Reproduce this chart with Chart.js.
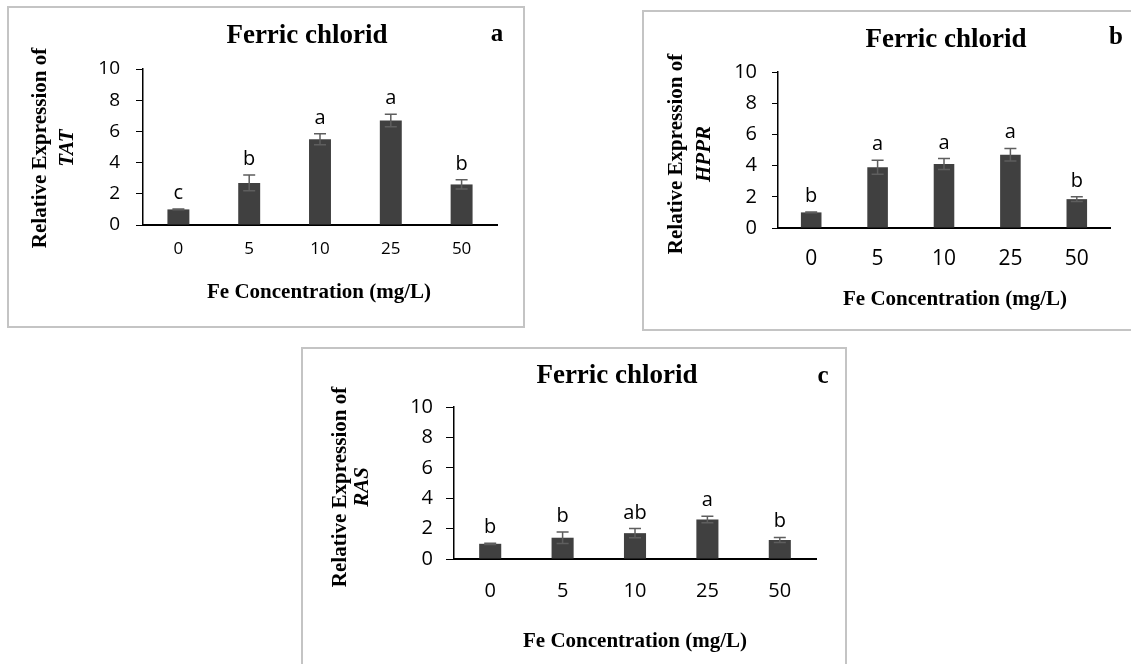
<!DOCTYPE html>
<html><head><meta charset="utf-8">
<script src="https://cdn.jsdelivr.net/npm/chart.js@4.4.1/dist/chart.umd.min.js"></script>
<style>
html,body{margin:0;padding:0;background:#fff;width:1131px;height:664px;overflow:hidden;}
.panel{position:absolute;border:2px solid #c4c4c4;box-sizing:border-box;background:#fff;}
canvas{display:block;}
</style></head><body>
<div class="panel" style="left:7px;top:6px;width:518px;height:322px;"><canvas id="ca" width="514" height="318"></canvas></div>
<div class="panel" style="left:642px;top:10px;width:492px;height:321px;"><canvas id="cb" width="488" height="317"></canvas></div>
<div class="panel" style="left:301px;top:347px;width:546px;height:320px;"><canvas id="cc" width="542" height="316"></canvas></div>
<script>
// ---- data ----
const categories = ['0', '5', '10', '25', '50'];
const tatMeans  = [1.0, 2.7, 5.5, 6.7, 2.6];
const tatErr    = [0.03, 0.5, 0.35, 0.4, 0.3];
const tatLetters = ['c', 'b', 'a', 'a', 'b'];
const hpprMeans = [1.0, 3.9, 4.1, 4.7, 1.85];
const hpprErr   = [0.03, 0.45, 0.35, 0.4, 0.15];
const hpprLetters = ['b', 'a', 'a', 'a', 'b'];
const rasMeans  = [1.0, 1.4, 1.7, 2.6, 1.25];
const rasErr    = [0.04, 0.38, 0.3, 0.22, 0.17];
const rasLetters = ['b', 'b', 'ab', 'a', 'b'];
const yTicksMax = 10, yTickStep = 2;
const chartTitle = 'Ferric chlorid';
const xTitle = 'Fe Concentration (mg/L)';
const yTitle = 'Relative Expression of';

const SERIF = '"Liberation Serif", "Times New Roman", serif';
const SANS = '"Open Sans", "Noto Sans", sans-serif';

const annotPlugin = {
  id: 'annot',
  afterDatasetsDraw(chart, args, o) {
    const ctx = chart.ctx, y = chart.scales.y;
    const meta = chart.getDatasetMeta(0);
    const vals = chart.data.datasets[0].data;
    ctx.save();
    meta.data.forEach((bar, i) => {
      const m = vals[i], e = o.errors[i];
      const yt = y.getPixelForValue(m + e), yb = y.getPixelForValue(m - e);
      const x = bar.x, hw = o.capHalf;
      ctx.strokeStyle = '#5e5e5e'; ctx.lineWidth = 1.5;
      ctx.beginPath();
      ctx.moveTo(x, yt); ctx.lineTo(x, yb);
      ctx.moveTo(x - hw, yt); ctx.lineTo(x + hw, yt);
      ctx.moveTo(x - hw, yb); ctx.lineTo(x + hw, yb);
      ctx.stroke();
      ctx.fillStyle = '#000';
      ctx.font = o.letterSize + 'px ' + SANS;
      ctx.textAlign = 'center'; ctx.textBaseline = 'alphabetic';
      ctx.fillText(o.letters[i], x, yt - o.letterGap);
    });
    ctx.restore();
  },
  afterDraw(chart, args, o) {
    const ctx = chart.ctx, L = o.lay;
    ctx.save();
    ctx.fillStyle = '#000';
    ctx.textBaseline = 'alphabetic';
    ctx.textAlign = 'center';
    ctx.font = 'bold 27px ' + SERIF;
    ctx.fillText(chartTitle, L.titleX, L.titleY);
    ctx.font = 'bold 25px ' + SERIF;
    ctx.fillText(o.panel, L.panelX, L.panelY);
    ctx.font = 'bold 21px ' + SERIF;
    ctx.fillText(xTitle, L.xTitleX, L.xTitleY);
    ctx.save();
    ctx.translate(L.yTitle1X, L.yTitleY);
    ctx.rotate(-Math.PI / 2);
    ctx.font = 'bold 21px ' + SERIF;
    ctx.fillText(yTitle, 0, 0);
    ctx.restore();
    ctx.save();
    ctx.translate(L.yTitle2X, L.yTitleY);
    ctx.rotate(-Math.PI / 2);
    ctx.font = 'italic bold 21px ' + SERIF;
    ctx.fillText(o.gene, 0, 0);
    ctx.restore();
    ctx.restore();
  }
};

function makePanel(id, means, errs, letters, gene, panel, L) {
  new Chart(document.getElementById(id), {
    type: 'bar',
    data: {
      labels: categories,
      datasets: [{
        data: means,
        backgroundColor: '#404040',
        borderWidth: 0,
        categoryPercentage: 1,
        barPercentage: L.barPct
      }]
    },
    options: {
      responsive: false,
      animation: false,
      devicePixelRatio: 1,
      layout: { padding: { left: 0, right: L.padR, top: L.padT, bottom: 0 } },
      plugins: {
        legend: { display: false },
        tooltip: { enabled: false },
        title: { display: false },
        annot: { errors: errs, letters: letters, gene: gene, panel: panel, lay: L,
                 capHalf: 6, letterGap: 10, letterSize: 20 }
      },
      scales: {
        x: {
          grid: { display: false, drawTicks: false },
          border: { display: true, color: '#000', width: 2 },
          ticks: { color: '#000', font: { family: SANS, size: L.xTickSize }, padding: L.xTickPad },
          afterFit: s => { s.height = L.xAxisH; }
        },
        y: {
          min: 0, max: yTicksMax,
          ticks: { stepSize: yTickStep, color: '#000', font: { family: SANS, size: L.yTickSize }, padding: L.yTickPad },
          grid: { drawOnChartArea: false, drawTicks: true, tickLength: L.tickLen, color: '#000', lineWidth: 1 },
          border: { display: true, color: '#000', width: 1.5 },
          afterFit: s => { s.width = L.yAxisW; }
        }
      }
    },
    plugins: [annotPlugin]
  });
}

makePanel('ca', tatMeans, tatErr, tatLetters, 'TAT', 'a', {
  barPct: 0.31, padR: 26, padT: 61, xAxisH: 101, yAxisW: 134,
  xTickSize: 17, xTickPad: 14, yTickSize: 19, yTickPad: 16, tickLen: 7,
  titleX: 298, titleY: 35, panelX: 488, panelY: 33,
  xTitleX: 310, xTitleY: 290, yTitle1X: 37, yTitle2X: 64, yTitleY: 140
});
makePanel('cb', hpprMeans, hpprErr, hpprLetters, 'HPPR', 'b', {
  barPct: 0.31, padR: 22, padT: 60, xAxisH: 101, yAxisW: 134,
  xTickSize: 21, xTickPad: 18, yTickSize: 20, yTickPad: 15, tickLen: 6,
  titleX: 302, titleY: 35, panelX: 472, panelY: 32,
  xTitleX: 311, xTitleY: 293, yTitle1X: 38, yTitle2X: 66, yTitleY: 142
});
makePanel('cc', rasMeans, rasErr, rasLetters, 'RAS', 'c', {
  barPct: 0.305, padR: 29, padT: 58, xAxisH: 106, yAxisW: 151,
  xTickSize: 20, xTickPad: 20, yTickSize: 20, yTickPad: 13, tickLen: 8,
  titleX: 314, titleY: 34, panelX: 520, panelY: 34,
  xTitleX: 332, xTitleY: 298, yTitle1X: 43, yTitle2X: 65, yTitleY: 138
});
</script>
</body></html>
